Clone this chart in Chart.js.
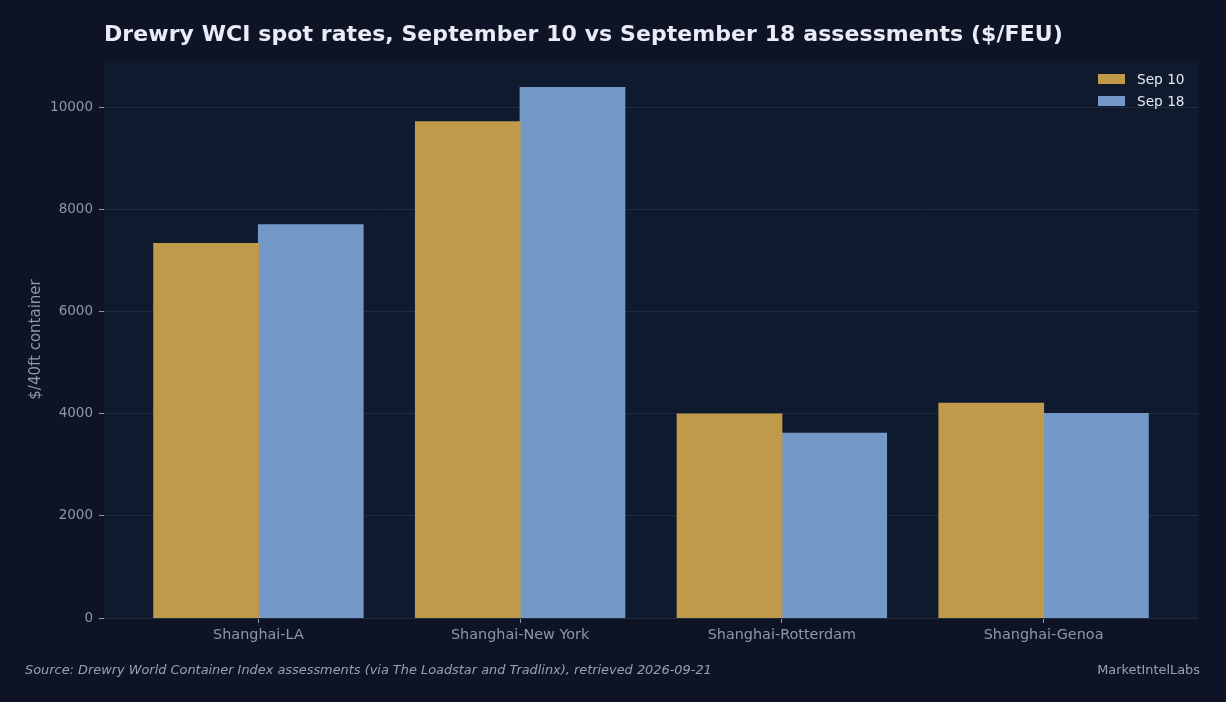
<!DOCTYPE html>
<html>
<head>
<meta charset="utf-8">
<script src="https://cdn.jsdelivr.net/npm/chart.js@4"></script>
<style>
  html, body { margin: 0; padding: 0; background: #0e1425; }
  #wrap { position: relative; width: 1226px; height: 702px; background: #0e1425; overflow: hidden; font-family: "DejaVu Sans", sans-serif; }
  #c { position: absolute; left: 0; top: 0; }
  #title { position: absolute; left: 104px; top: 21px; font-family: "DejaVu Sans"; font-size: 22px; letter-spacing: 0.07px; line-height: 26px; font-weight: bold; color: #e8ecf6; white-space: nowrap; }
  #source { position: absolute; left: 25px; top: 662px; font-size: 12.9px; line-height: 16px; font-style: italic; color: #98a1b2; white-space: nowrap; }
  #brand { position: absolute; right: 26px; top: 662px; font-size: 12.9px; line-height: 16px; color: #98a1b2; white-space: nowrap; }
</style>
</head>
<body>
<div id="wrap">
  <canvas id="c" width="1226" height="702"></canvas>
  <div id="title">Drewry WCI spot rates, September 10 vs September 18 assessments ($/FEU)</div>
  <div id="source">Source: Drewry World Container Index assessments (via The Loadstar and Tradlinx), retrieved 2026-09-21</div>
  <div id="brand">MarketIntelLabs</div>
</div>
<script>
const categories = ["Shanghai-LA", "Shanghai-New York", "Shanghai-Rotterdam", "Shanghai-Genoa"];
const sep10 = [7340, 9730, 4000, 4210];
const sep18 = [7710, 10400, 3620, 4010];
const seriesLabels = ["Sep 10", "Sep 18"];
const yTicks = [0, 2000, 4000, 6000, 8000, 10000];

const GOLD = "#c09a4b";
const BLUE = "#7499c8";
const TICK = "#8d97a9";

const toPoints = arr => arr.map((v, i) => ({ x: i, y: v }));
const yMax = Math.max(...sep10, ...sep18) * 1.05;

const plotBg = {
  id: "plotBg",
  beforeDraw(chart) {
    const { ctx, chartArea: a } = chart;
    ctx.save();
    ctx.fillStyle = "#101a2e";
    ctx.fillRect(a.left, a.top, a.right - a.left, a.bottom - a.top);
    ctx.restore();
  }
};

const legendPlugin = {
  id: "customLegend",
  afterDraw(chart) {
    const { ctx, chartArea: a } = chart;
    ctx.save();
    ctx.font = "13.7px 'DejaVu Sans'";
    ctx.textBaseline = "middle";
    ctx.textAlign = "left";
    chart.data.datasets.forEach((ds, i) => {
      const bx = a.right - 100;
      const by = a.top + 13 + i * 22;
      ctx.fillStyle = ds.backgroundColor;
      ctx.fillRect(bx, by, 27, 10);
      ctx.fillStyle = "#e4e9f2";
      ctx.fillText(ds.label, bx + 39, by + 6.5);
    });
    ctx.restore();
  }
};

new Chart(document.getElementById("c"), {
  type: "bar",
  data: {
    datasets: [
      { label: seriesLabels[0], data: toPoints(sep10), backgroundColor: GOLD, borderColor: GOLD, borderWidth: 0, inflateAmount: 0.5, categoryPercentage: 0.8, barPercentage: 1.0 },
      { label: seriesLabels[1], data: toPoints(sep18), backgroundColor: BLUE, borderColor: BLUE, borderWidth: 0, inflateAmount: 0.5, categoryPercentage: 0.8, barPercentage: 1.0 }
    ]
  },
  options: {
    responsive: false,
    animation: false,
    devicePixelRatio: 1,
    layout: { padding: { left: 0, right: 28, top: 61, bottom: 0 } },
    plugins: { legend: { display: false }, tooltip: { enabled: false }, title: { display: false } },
    scales: {
      x: {
        type: "linear",
        min: -0.59,
        max: categories.length - 1 + 0.59,
        offset: false,
        afterBuildTicks(scale) { scale.ticks = categories.map((_, i) => ({ value: i })); },
        afterFit(scale) { scale.height = 702 - 618; },
        border: { display: false },
        grid: { display: true, offset: false, drawOnChartArea: false, drawTicks: true, tickLength: 5, tickColor: TICK, lineWidth: 1 },
        ticks: {
          color: TICK, padding: 4, autoSkip: false, maxRotation: 0,
          font: { family: "DejaVu Sans", size: 14.4 },
          callback: v => categories[v] ?? ""
        }
      },
      y: {
        min: 0,
        max: yMax,
        afterBuildTicks(scale) { scale.ticks = yTicks.map(v => ({ value: v })); },
        afterFit(scale) { scale.width = 104; },
        border: { display: false },
        grid: { color: "#222c3f", lineWidth: 1, tickLength: 5, tickColor: TICK, drawTicks: true },
        ticks: { color: TICK, padding: 6, font: { family: "DejaVu Sans", size: 13.5 }, callback: v => String(v) },
        title: {
          display: true, text: "$/40ft container", color: TICK,
          font: { family: "DejaVu Sans", size: 15 },
          padding: { top: 27, bottom: 0 }
        }
      }
    }
  },
  plugins: [plotBg, legendPlugin]
});
</script>
</body>
</html>
